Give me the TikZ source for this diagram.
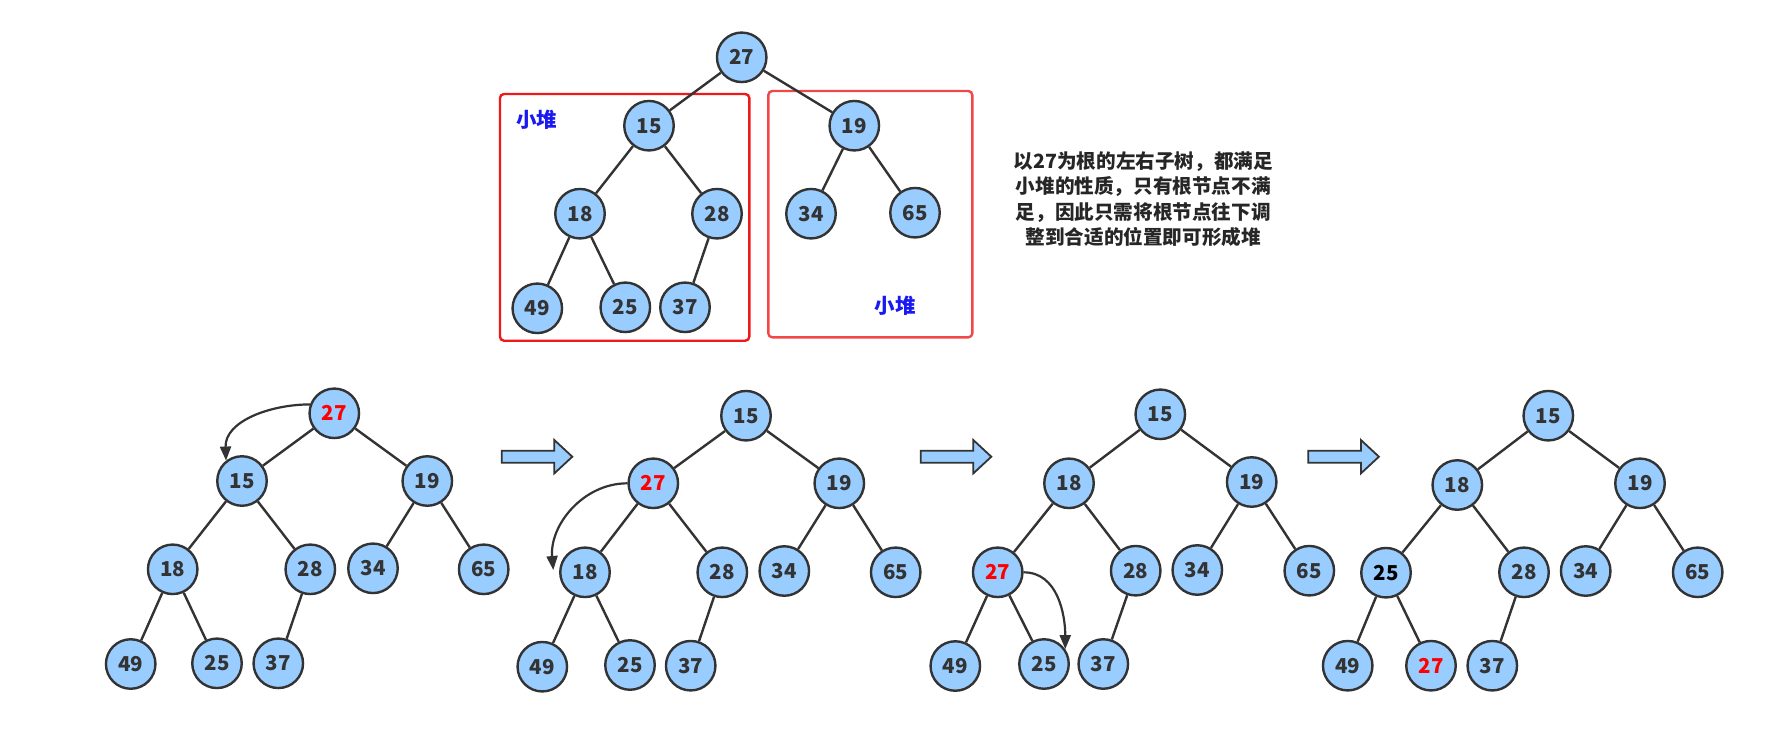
\documentclass[tikz,border=0pt]{standalone}
\usepackage{fontspec}
\setmainfont{Noto Sans CJK SC}
\usetikzlibrary{arrows.meta}
\definecolor{nodefill}{HTML}{99CCFF}
\definecolor{ink}{HTML}{333333}
\definecolor{boxred}{HTML}{F01818}
\definecolor{boxred2}{HTML}{F04848}
\definecolor{labblue}{HTML}{1A1AF0}
\definecolor{txt}{HTML}{262626}
\begin{document}
\begin{tikzpicture}[x=1pt,y=-1pt,
  hn/.style={circle,draw=ink,fill=nodefill,line width=2.4pt,minimum size=49.5pt,inner sep=0pt,font=\fontsize{20.5}{20.5}\selectfont\bfseries,text=ink},
  hotnum/.style={text=red},
  edge/.style={draw=ink,line width=2.4pt},
  arr/.style={draw=ink,line width=2.2pt,-{Triangle[length=14pt,width=11pt]}},
  blk/.style={draw=ink,fill=nodefill,line width=1.8pt,line join=miter},
  heapbox/.style={line width=2.4pt,rounded corners=4pt},
  heaplab/.style={text=labblue,font=\fontsize{20.5}{20.5}\selectfont\bfseries}]
\useasboundingbox (0,0) rectangle (1779,737);

% ---------- top tree ----------
\draw[heapbox,draw=boxred] (500,94) rectangle (749.3,340.7);
\draw[heapbox,draw=boxred2] (768.3,91) rectangle (972.3,337.3);
\node[heaplab] (lab1) at (536.7,120) {小堆};
\node[heaplab] (lab2) at (895,305.7) {小堆};

\node[hn] (t27) at (741.7,57.3) {27};
\node[hn] (t15) at (649,125.7) {15};
\node[hn] (t19) at (854.3,125.7) {19};
\node[hn] (t18) at (580,213.7) {18};
\node[hn] (t28) at (717,213.7) {28};
\node[hn] (t34) at (811,213.7) {34};
\node[hn] (t65) at (915,212.7) {65};
\node[hn] (t49) at (537.3,308.3) {49};
\node[hn] (t25) at (625.3,307.3) {25};
\node[hn] (t37) at (685,307.3) {37};
\draw[edge] (t27)--(t15) (t27)--(t19) (t15)--(t18) (t15)--(t28) (t19)--(t34) (t19)--(t65)
  (t18)--(t49) (t18)--(t25) (t28)--(t37);

\node[text=txt,align=center,font=\fontsize{19.6}{25.2}\selectfont\bfseries] (desc) at (1143.3,199.2)
 {以27为根的左右子树，都满足\\小堆的性质，只有根节点不满\\足，因此只需将根节点往下调\\整到合适的位置即可形成堆};

% ---------- tree 1 ----------
\node[hn,hotnum] (a27) at (334.3,413.3) {27};
\node[hn] (a15) at (242,481) {15};
\node[hn] (a19) at (427.3,481) {19};
\node[hn] (a18) at (172.7,569.3) {18};
\node[hn] (a28) at (310.3,569.3) {28};
\node[hn] (a34) at (373,568.3) {34};
\node[hn] (a65) at (483.7,569.3) {65};
\node[hn] (a49) at (130.7,664) {49};
\node[hn] (a25) at (217,663.3) {25};
\node[hn] (a37) at (278.3,663.3) {37};
\draw[edge] (a27)--(a15) (a27)--(a19) (a15)--(a18) (a15)--(a28) (a19)--(a34) (a19)--(a65)
  (a18)--(a49) (a18)--(a25) (a28)--(a37);
\draw[arr] (a27.160) to[out=180,in=92] (a15.128);

% ---------- tree 2 ----------
\node[hn] (b15) at (746,415.7) {15};
\node[hn,hotnum] (b27) at (653.3,483.3) {27};
\node[hn] (b19) at (839.3,483.3) {19};
\node[hn] (b18) at (585,572.3) {18};
\node[hn] (b28) at (722.3,572.3) {28};
\node[hn] (b34) at (784.3,571) {34};
\node[hn] (b65) at (895.7,572.3) {65};
\node[hn] (b49) at (542.3,666.7) {49};
\node[hn] (b25) at (630,665) {25};
\node[hn] (b37) at (690.7,665.7) {37};
\draw[edge] (b15)--(b27) (b15)--(b19) (b27)--(b18) (b27)--(b28) (b19)--(b34) (b19)--(b65)
  (b18)--(b49) (b18)--(b25) (b28)--(b37);
\coordinate (btip) at (553.3,570);
\draw[arr] (b27.west) to[out=180,in=95] (btip);

% ---------- tree 3 ----------
\node[hn] (c15) at (1160.3,414.3) {15};
\node[hn] (c18) at (1069,483.3) {18};
\node[hn] (c19) at (1251.7,482) {19};
\node[hn,hotnum] (c27) at (997.7,572.3) {27};
\node[hn] (c28) at (1135.7,570.7) {28};
\node[hn] (c34) at (1197.3,570) {34};
\node[hn] (c65) at (1309.3,570.7) {65};
\node[hn] (c49) at (955.3,666) {49};
\node[hn] (c25) at (1044,664) {25};
\node[hn] (c37) at (1103.3,664) {37};
\draw[edge] (c15)--(c18) (c15)--(c19) (c18)--(c27) (c18)--(c28) (c19)--(c34) (c19)--(c65)
  (c27)--(c49) (c27)--(c25) (c28)--(c37);
\draw[arr] (c27.east) to[out=0,in=90] (c25.35);

% ---------- tree 4 ----------
\node[hn] (d15) at (1548.3,415.7) {15};
\node[hn] (d18) at (1457.3,485) {18};
\node[hn] (d19) at (1640,483.3) {19};
\node[hn,text=black] (d25) at (1386,572.7) {25};
\node[hn] (d28) at (1524,572.3) {28};
\node[hn] (d34) at (1585.7,571) {34};
\node[hn] (d65) at (1697.7,572.3) {65};
\node[hn] (d49) at (1347.7,665.7) {49};
\node[hn,hotnum] (d27) at (1431,665.7) {27};
\node[hn] (d37) at (1492.3,665.7) {37};
\draw[edge] (d15)--(d18) (d15)--(d19) (d18)--(d25) (d18)--(d28) (d19)--(d34) (d19)--(d65)
  (d25)--(d49) (d25)--(d27) (d28)--(d37);

% ---------- block arrows ----------
\foreach \x in {501.7,920.7,1308.3}
  \draw[blk] (\x,450.7) -- ({\x+52.6},450.7) -- ({\x+52.6},440) -- ({\x+70.6},456.7)
    -- ({\x+52.6},473.4) -- ({\x+52.6},462.7) -- (\x,462.7) -- cycle;
\end{tikzpicture}
\end{document}
